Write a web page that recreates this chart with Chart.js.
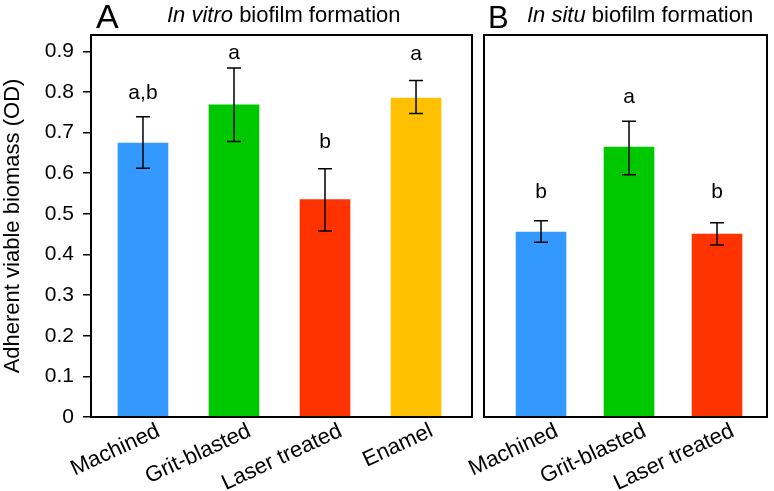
<!DOCTYPE html>
<html>
<head>
<meta charset="utf-8">
<script src="https://cdn.jsdelivr.net/npm/chart.js@4.4.1/dist/chart.umd.min.js"></script>
<style>
  html, body { margin: 0; padding: 0; background: #fff; }
  #wrap { position: relative; width: 774px; height: 491px; }
  .panel { position: absolute; top: 0; height: 491px; }
  #panelA { left: 0; width: 478px; }
  #panelB { left: 430px; width: 344px; }
</style>
</head>
<body>
<div id="wrap">
  <div class="panel" id="panelA"><canvas id="chartA"></canvas></div>
  <div class="panel" id="panelB"><canvas id="chartB"></canvas></div>
</div>
<script>
// --- data ---
const labelsA = ['Machined', 'Grit-blasted', 'Laser treated', 'Enamel'];
const meanA = [0.674, 0.768, 0.535, 0.785];
const lowA = [0.612, 0.678, 0.458, 0.747];
const highA = [0.739, 0.859, 0.611, 0.828];
const lettersA = ['a,b', 'a', 'b', 'a'];
const letterPosA = [0.796, 0.894, 0.676, 0.892];

const labelsB = ['Machined', 'Grit-blasted', 'Laser treated'];
const meanB = [0.455, 0.664, 0.450];
const lowB = [0.430, 0.596, 0.423];
const highB = [0.483, 0.728, 0.478];
const lettersB = ['b', 'a', 'b'];
const letterPosB = [0.554, 0.786, 0.554];

const yTicks = [0, 0.1, 0.2, 0.3, 0.4, 0.5, 0.6, 0.7, 0.8, 0.9];
const COLORS = ['#3399FF', '#00C800', '#FF3300', '#FFC000'];

const FONT = "'Liberation Sans', Arial, sans-serif";

// --- plugins ---
const boxPlugin = {
  id: 'box',
  afterDatasetsDraw(chart) {
    const a = chart.chartArea, ctx = chart.ctx;
    ctx.save();
    ctx.strokeStyle = '#000';
    ctx.lineWidth = 2;
    ctx.strokeRect(a.left, a.top, a.right - a.left, a.bottom - a.top);
    ctx.restore();
  }
};

const errorPlugin = {
  id: 'errbars',
  afterDatasetsDraw(chart, args, opts) {
    const ctx = chart.ctx, y = chart.scales.y;
    const meta = chart.getDatasetMeta(0);
    ctx.save();
    ctx.strokeStyle = '#000';
    ctx.lineWidth = 1.5;
    meta.data.forEach((el, i) => {
      const yHi = y.getPixelForValue(opts.high[i]);
      const yLo = y.getPixelForValue(opts.low[i]);
      ctx.beginPath();
      ctx.moveTo(el.x, yLo); ctx.lineTo(el.x, yHi);
      ctx.moveTo(el.x - 7, yHi); ctx.lineTo(el.x + 7, yHi);
      ctx.moveTo(el.x - 7, yLo); ctx.lineTo(el.x + 7, yLo);
      ctx.stroke();
    });
    // significance letters
    ctx.fillStyle = '#000';
    ctx.font = '21px ' + FONT;
    ctx.textAlign = 'center';
    ctx.textBaseline = 'middle';
    meta.data.forEach((el, i) => {
      ctx.fillText(opts.letters[i], el.x, y.getPixelForValue(opts.letterPos[i]));
    });
    ctx.restore();
  }
};

// category names under the bars, slanted 25 degrees
const catLabelPlugin = {
  id: 'catLabels',
  afterDraw(chart, args, opts) {
    const ctx = chart.ctx, x = chart.scales.x, bottom = chart.chartArea.bottom;
    ctx.save();
    ctx.fillStyle = '#000';
    ctx.font = '22px ' + FONT;
    ctx.textAlign = 'right';
    ctx.textBaseline = 'top';
    opts.labels.forEach((lab, i) => {
      ctx.save();
      ctx.translate(x.getPixelForValue(i) + 11, bottom + 3);
      ctx.rotate(-25 * Math.PI / 180);
      ctx.fillText(lab, 0, 0);
      ctx.restore();
    });
    ctx.restore();
  }
};

const headPlugin = {
  id: 'head',
  afterDraw(chart, args, opts) {
    const ctx = chart.ctx;
    ctx.save();
    ctx.fillStyle = '#000';
    ctx.textBaseline = 'alphabetic';
    ctx.textAlign = 'left';
    ctx.font = opts.letterSize + 'px ' + FONT;
    ctx.fillText(opts.letter, opts.letterX, 28);
    ctx.font = 'italic 22px ' + FONT;
    ctx.fillText(opts.italic, opts.textX, 22);
    const w = ctx.measureText(opts.italic).width;
    ctx.font = '22px ' + FONT;
    ctx.fillText(opts.rest, opts.textX + w, 22);
    ctx.restore();
  }
};

function makePanel(canvasId, labels, means, low, high, letters, letterPos, xMin, xMax, showY, padding, head) {
  return new Chart(document.getElementById(canvasId), {
    type: 'bar',
    data: {
      datasets: [{
        data: means.map((v, i) => ({ x: i, y: v })),
        backgroundColor: COLORS.slice(0, means.length),
        barThickness: 50,
        borderWidth: 0
      }]
    },
    options: {
      responsive: true,
      maintainAspectRatio: false,
      animation: false,
      layout: { padding: padding },
      plugins: {
        legend: { display: false },
        tooltip: { enabled: false },
        errbars: { low: low, high: high, letters: letters, letterPos: letterPos },
        catLabels: { labels: labels },
        head: head
      },
      scales: {
        x: {
          type: 'linear',
          min: xMin,
          max: xMax,
          offset: false,
          afterBuildTicks: s => { s.ticks = labels.map((_, i) => ({ value: i })); },
          afterFit: s => { s.height = 74; },
          grid: { display: false },
          border: { display: false },
          ticks: { display: false }
        },
        y: {
          display: showY,
          min: 0,
          max: 0.94,
          afterBuildTicks: s => { s.ticks = yTicks.map(v => ({ value: v })); },
          afterFit: s => { if (showY) s.width = 91; },
          grid: { drawOnChartArea: false, tickLength: 8, color: '#000', lineWidth: 1.5 },
          border: { display: true, color: '#000', width: 2 },
          title: {
            display: true,
            text: 'Adherent viable biomass (OD)',
            color: '#000',
            font: { family: FONT, size: 22 },
            padding: 0
          },
          ticks: {
            padding: 9,
            color: '#000',
            font: { family: FONT, size: 21 },
            callback: v => (v === 0 ? '0' : v.toFixed(1))
          }
        }
      }
    },
    plugins: [boxPlugin, errorPlugin, catLabelPlugin, headPlugin]
  });
}

makePanel('chartA', labelsA, meanA, lowA, highA, lettersA, letterPosA, -0.571, 3.615, true,
  { top: 35, right: 6, left: 0, bottom: 0 },
  { letter: 'A', letterSize: 34, letterX: 96, italic: 'In vitro', rest: ' biofilm formation', textX: 167 });

makePanel('chartB', labelsB, meanB, lowB, highB, lettersB, letterPosB, -0.648, 2.568, false,
  { top: 35, right: 7, left: 54, bottom: 0 },
  { letter: 'B', letterSize: 31, letterX: 58, italic: 'In situ', rest: ' biofilm formation', textX: 97 });
</script>
</body>
</html>
